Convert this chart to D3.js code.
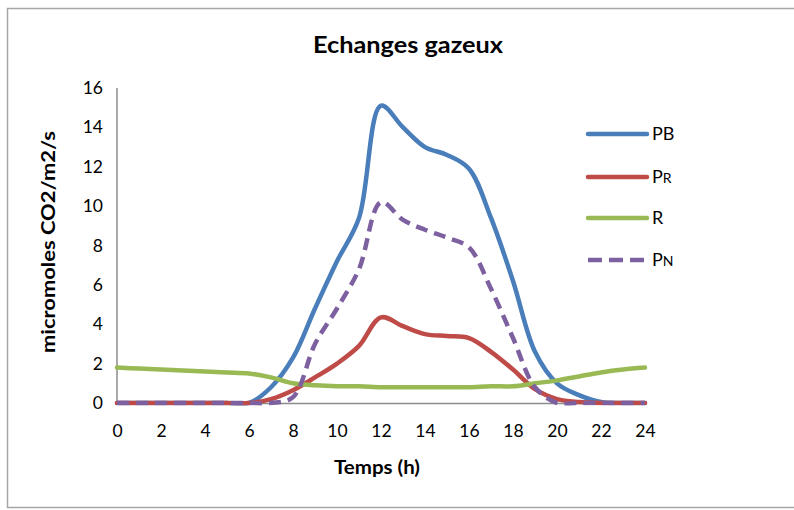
<!DOCTYPE html>
<html><head><meta charset="utf-8">
<script src="https://cdn.jsdelivr.net/npm/d3@7"></script>
<style>body{margin:0;background:#fff}svg{display:block}</style>
</head><body>
<svg id="c" width="794" height="510"></svg>
<script>
const hours = [0,1,2,3,4,5,6,7,8,9,10,11,12,13,14,15,16,17,18,19,20,21,22,23,24];
const PB = [0,0,0,0,0,0,0,0.8,2.3,4.8,7.2,9.4,15.1,14.0,13.0,12.6,11.9,9.4,6.2,2.6,1.0,0.4,0.05,0,0];
const PR = [0,0,0,0,0,0,0,0.2,0.65,1.3,2.0,2.9,4.35,3.9,3.5,3.4,3.3,2.6,1.7,0.7,0.2,0.05,0,0,0];
const R  = [1.8,1.75,1.7,1.65,1.6,1.55,1.5,1.3,1.0,0.9,0.85,0.85,0.8,0.8,0.8,0.8,0.8,0.85,0.85,1.0,1.15,1.35,1.55,1.7,1.8];
const PN = [0,0,0,0,0,0,0,0,0.3,3.0,4.8,6.8,10.2,9.3,8.8,8.4,7.9,5.8,3.3,0.8,0,0,0,0,0];
const xTicks = [0,2,4,6,8,10,12,14,16,18,20,22,24];
const yTicks = [0,2,4,6,8,10,12,14,16];
const seriesNames = ["PB","PR","R","PN"];
const seriesColors = ["#4A7EBB","#BE4B48","#98B954","#7D60A0"];

const svg = d3.select("#c");
const font = "Lato, 'Open Sans', sans-serif";

// frame
svg.append("rect").attr("x",7.5).attr("y",8.5).attr("width",800).attr("height",499)
  .attr("fill","none").attr("stroke","#a6a6a6").attr("stroke-width",1.5);

const x = d3.scaleLinear().domain([0,24]).range([117,645]);
const y = d3.scaleLinear().domain([0,16]).range([403,88]);

// axes
const gx = svg.append("g").attr("transform","translate(0,403)")
  .call(d3.axisBottom(x).tickValues(xTicks).tickSize(0).tickPadding(22));
const gy = svg.append("g").attr("transform","translate(117,0)")
  .call(d3.axisLeft(y).tickValues(yTicks).tickSize(0).tickPadding(14));
[gx,gy].forEach(g=>{
  g.select(".domain").attr("stroke","#8c8c8c").attr("stroke-width",1.5);
  g.selectAll("text").attr("font-family",font).attr("font-size",17.5).attr("fill","#000");
});
gy.select(".domain").attr("d","M0,403V88");

// title & axis titles
svg.append("text").attr("x",408).attr("y",53).attr("text-anchor","middle")
  .attr("font-family",font).attr("font-weight","bold").attr("font-size",23)
  .attr("textLength",190).attr("lengthAdjust","spacingAndGlyphs").text("Echanges gazeux");
svg.append("text").attr("x",377).attr("y",474).attr("text-anchor","middle")
  .attr("font-family",font).attr("font-weight","bold").attr("font-size",18)
  .attr("textLength",86).attr("lengthAdjust","spacingAndGlyphs").text("Temps (h)");
svg.append("text").attr("transform","translate(55,242) rotate(-90)").attr("text-anchor","middle")
  .attr("font-family",font).attr("font-weight","bold").attr("font-size",18)
  .attr("textLength",222).attr("lengthAdjust","spacingAndGlyphs").text("micromoles CO2/m2/s");

// clip to keep smoothed curves from dipping below the axis
svg.append("clipPath").attr("id","clip").append("rect")
  .attr("x",100).attr("y",60).attr("width",560).attr("height",x(0)===117 ? 345.5 : 345.5);

// lines
const data = [PB,PR,R,PN];
const line = d3.line().x((d,i)=>x(hours[i])).y(d=>y(d)).curve(d3.curveCatmullRom.alpha(0.5));
data.forEach((vals,k)=>{
  svg.append("path").datum(vals).attr("d",line).attr("fill","none")
    .attr("clip-path","url(#clip)")
    .attr("stroke",seriesColors[k]).attr("stroke-width",4.5)
    .attr("stroke-linecap", k===3 ? "butt" : "round").attr("stroke-linejoin","round")
    .attr("stroke-dasharray", k===3 ? "12,7" : null);
});

// legend
const legY = [134,177,218,260];
seriesNames.forEach((name,k)=>{
  const g = svg.append("g");
  g.append("line").attr("x1",588).attr("x2",647).attr("y1",legY[k]).attr("y2",legY[k])
    .attr("stroke",seriesColors[k]).attr("stroke-width",4.5)
    .attr("stroke-linecap", k===3 ? "butt":"round")
    .attr("stroke-dasharray", k===3 ? "14,7" : null);
  const t = g.append("text").attr("x",652).attr("y",legY[k]+6).attr("font-family",font)
    .attr("font-size",18).attr("fill","#000");
  if (name.length === 2 && name !== "PB") {
    t.append("tspan").text(name[0]);
    t.append("tspan").attr("font-size",14).text(name[1]);
  } else t.text(name);
});
</script>
</body></html>
